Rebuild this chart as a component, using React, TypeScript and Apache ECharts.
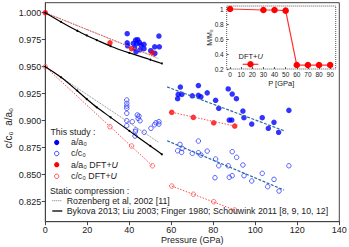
import React, { useEffect, useRef } from "react";
import * as echarts from "echarts";

// ---- data ----
const staticP = [0, 7.5, 15.2, 19.7, 24.5, 31.1, 40, 50, 55.5];
const staticA = [1.0, 0.9915, 0.9833, 0.979, 0.9747, 0.969, 0.9628, 0.9565, 0.953];
const staticC = [0.95, 0.9402, 0.9278, 0.9201, 0.9124, 0.9031, 0.8906, 0.8766, 0.8689];

const rozP = [0, 54];
const rozA = [1.0, 0.9575];
const rozC = [0.95, 0.88];

const dftP = [0, 30.8, 41.1, 51, 60.2, 70.5, 80.2, 90.2];
const dftA = [1.0, 0.9722, 0.9667, 0.963, 0.9078, 0.9031, 0.8981, 0.8951];
const dftC = [0.95, 0.8944, 0.8766, 0.8583, 0.8395, 0.8319, 0.825, 0.8173];

const dftFitA1 = [[0, 1.0], [53, 0.9587]];
const dftFitC1 = [[0, 0.95], [51, 0.8583]];
const dftFitA2 = [[60.2, 0.9078], [90.2, 0.8951]];
const dftFitC2 = [[60.2, 0.8395], [90.2, 0.8173]];

const expFitA = [[58, 0.9313], [114, 0.8905]];
const expFitC = [[58, 0.8815], [113.7, 0.8358]];

const expA = [
  [39.0, 0.9806], [39.0, 0.9722], [39.2, 0.9694], [43.0, 0.9747], [44.0, 0.975],
  [41.9, 0.9717], [43.5, 0.9713], [44.8, 0.9726], [45.6, 0.9701], [47.0, 0.9707],
  [47.0, 0.9667], [45.1, 0.9657], [43.2, 0.9639], [42.5, 0.9675], [54.1, 0.9784],
  [52.1, 0.9685], [54.3, 0.9685], [50.2, 0.9648], [52.2, 0.9624],
  [64.3, 0.9312], [63.0, 0.9204], [63.3, 0.9244], [65.0, 0.9244], [70.0, 0.9231],
  [72.9, 0.9326], [72.9, 0.9235], [74.1, 0.9222], [77.1, 0.9258], [81.1, 0.9189],
  [82.6, 0.9115], [87.1, 0.9294], [89.0, 0.9247], [91.0, 0.9204], [94.1, 0.909],
  [94.6, 0.9028], [87.6, 0.9006], [88.8, 0.9006], [98.3, 0.8969], [103.3, 0.9028],
  [108.9, 0.8985], [106.2, 0.893], [111.1, 0.8893], [116.0, 0.9096],
];

const expC = [
  [38.8, 0.9192], [38.8, 0.9161], [38.8, 0.9136], [38.8, 0.9115], [38.8, 0.9069],
  [38.8, 0.9], [38.8, 0.8954], [41.4, 0.8991], [43.8, 0.9053], [44.6, 0.9043],
  [44.2, 0.9022], [45.1, 0.9], [42.9, 0.8898], [42.7, 0.8858], [43.0, 0.8914],
  [47.1, 0.8893], [50.3, 0.893], [52.0, 0.8963], [52.7, 0.8981], [54.1, 0.8991],
  [54.1, 0.8969],
  [64.1, 0.8781], [63.0, 0.8722], [65.2, 0.8744], [64.9, 0.8707], [70.0, 0.8698],
  [72.9, 0.8812], [72.9, 0.8704], [74.1, 0.8682], [77.1, 0.8719], [81.1, 0.8645],
  [80.8, 0.8472], [82.6, 0.8583], [87.1, 0.8583], [89.0, 0.8713], [91.1, 0.8661],
  [87.6, 0.8476], [89.0, 0.8491], [94.1, 0.859], [94.6, 0.8491], [98.3, 0.8442],
  [103.3, 0.8513], [108.9, 0.8457], [105.9, 0.8389], [111.3, 0.8349], [116.0, 0.8583],
];

const xTicks = [0, 20, 40, 60, 80, 100, 120, 140];
const yTicks = [0.825, 0.85, 0.875, 0.9, 0.925, 0.95, 0.975, 1.0];

const insetP = [0, 30, 40, 50, 60, 70, 80, 90];
const insetM = [1.0, 0.987, 0.987, 0.978, 0.253, 0.253, 0.253, 0.253];
const insetXTicks = [0, 10, 20, 30, 40, 50, 60, 70, 80, 90];
const insetYTicks = [0.2, 0.4, 0.6, 0.8, 1.0];

const FONT = '"Liberation Sans", Arial, sans-serif';
const BLUE = "#0000ff";
const OBLUE = "#2f3cff";
const RED = "#ff0000";
const FITBLUE = "#2a6aa8";
const LF = 8.8;

const zip = (xs: number[], ys: number[]) => xs.map((x, i) => [x, ys[i]]);

export default function App() {
  const ref = useRef<HTMLDivElement>(null);
  useEffect(() => {
    if (!ref.current) return;
    const chart = echarts.init(ref.current, undefined, { renderer: "svg" });
    const lbl = (t: string, x: number, y: number, extra: any = {}) => ({
      type: "text",
      x,
      y,
      z: 20,
      style: {
        text: t,
        font: `${LF}px ${FONT}`,
        fill: "#222",
        verticalAlign: "middle",
        ...extra,
      },
    });
    const richLbl = (pre: string, x: number, y: number, size: number, z = 20) => ({
      type: "text", x, y, z,
      style: {
        text: `{n|${pre}}{i|U}`,
        verticalAlign: "middle",
        rich: {
          n: { font: `${size}px ${FONT}`, fill: "#222" },
          i: { font: `italic ${size}px ${FONT}`, fill: "#222" },
        },
      },
    });
    const graphic: any[] = [
      {
        type: "text",
        x: 8,
        y: 128,
        rotation: Math.PI / 2,
        style: {
          text: "c/c₀  a/a₀",
          font: `10px ${FONT}`,
          fill: "#222",
          align: "center",
          verticalAlign: "middle",
        },
      },
      lbl("Pressure (GPa)", 192.3, 239.5, { align: "center", font: `9px ${FONT}` }),
      lbl("This study :", 50.5, 131.7),
      { type: "circle", z: 20, shape: { cx: 56.7, cy: 142.5, r: 2.6 }, style: { fill: BLUE } },
      lbl("a/a₀", 71, 142),
      { type: "circle", z: 20, shape: { cx: 56.7, cy: 153.5, r: 2.2 }, style: { fill: "none", stroke: OBLUE, lineWidth: 1 } },
      lbl("c/c₀", 71, 153),
      { type: "circle", z: 20, shape: { cx: 56.7, cy: 164.7, r: 2.6 }, style: { fill: RED } },
      richLbl("a/a₀ DFT+", 71, 164.5, LF),
      { type: "circle", z: 20, shape: { cx: 56.7, cy: 176.3, r: 2.2 }, style: { fill: "none", stroke: "#ff4a4a", lineWidth: 1 } },
      richLbl("c/c₀ DFT+", 71, 176, LF),
      lbl("Static compression :", 50, 191),
      { type: "line", z: 20, shape: { x1: 52.3, y1: 200.7, x2: 62.3, y2: 200.7 }, style: { stroke: "#777", lineWidth: 1, lineDash: [1, 1] } },
      lbl("Rozenberg et al, 2002 [11]", 66.7, 200.7),
      { type: "line", z: 20, shape: { x1: 52.3, y1: 211, x2: 62.3, y2: 211 }, style: { stroke: "#000", lineWidth: 1.3 } },
      lbl("Bykova 2013; Liu 2003; Finger 1980; Schouwink 2011 [8, 9, 10, 12]", 66.7, 211),
      {
        type: "rect",
        z: 30,
        shape: { x: 226.7, y: 6, width: 109, height: 63 },
        style: { fill: "none", stroke: "#555", lineWidth: 1, lineDash: [1, 1] },
      },
      richLbl("DFT+", 238.5, 56.7, 7.5, 30),
      { type: "line", z: 30, shape: { x1: 242.7, y1: 64.3, x2: 258.3, y2: 64.3 }, style: { stroke: "#ff3030", lineWidth: 1.2 } },
      { type: "circle", z: 31, shape: { cx: 250.5, cy: 64.3, r: 3.2 }, style: { fill: RED } },
    ];

    const option: any = {
      animation: false,
      backgroundColor: "#fff",
      textStyle: { fontFamily: FONT },
      grid: [
        {
          left: 45.3, top: 2.7, width: 294, height: 219,
          show: true, borderColor: "#444", borderWidth: 1, backgroundColor: "transparent",
          containLabel: false, outerBoundsMode: "none",
        },
        {
          left: 226.7, top: 6, width: 109, height: 63,
          show: true, borderWidth: 0, backgroundColor: "#fff", z: 5,
          containLabel: false, outerBoundsMode: "none",
        },
      ],
      xAxis: [
        {
          type: "value", gridIndex: 0, min: 0, max: 140, interval: 20,
          axisLine: { show: true, onZero: false, lineStyle: { color: "#444", width: 1 } },
          axisTick: { show: true, inside: false, length: 3.5, customValues: xTicks, lineStyle: { color: "#444" } },
          axisLabel: { fontSize: 9, color: "#222", margin: 4, customValues: xTicks, fontFamily: FONT },
          splitLine: { show: false },
        },
        {
          type: "value", gridIndex: 1, min: -3, max: 95,
          name: "P [GPa]", nameLocation: "middle", nameGap: 10, nameMoveOverlap: false,
          nameTextStyle: { fontSize: 7.5, color: "#222", fontFamily: FONT },
          axisLine: { show: false, onZero: false },
          axisTick: { show: true, inside: true, length: 2, customValues: insetXTicks, lineStyle: { color: "#555" } },
          axisLabel: { fontSize: 6.5, color: "#222", margin: 2, customValues: insetXTicks, fontFamily: FONT },
          splitLine: { show: false },
          z: 6,
        },
      ],
      yAxis: [
        {
          type: "value", gridIndex: 0, min: 0.8065, max: 1.0093,
          axisLine: { show: true, onZero: false, lineStyle: { color: "#444", width: 1 } },
          axisTick: { show: true, inside: false, length: 3.5, customValues: yTicks, lineStyle: { color: "#444" } },
          axisLabel: {
            fontSize: 9, color: "#222", margin: 4, customValues: yTicks, fontFamily: FONT,
            formatter: (v: number) => v.toFixed(3),
          },
          splitLine: { show: false },
        },
        {
          type: "value", gridIndex: 1, min: 0.2, max: 1.04,
          name: "M/M₀", nameLocation: "middle", nameGap: 14, nameRotate: 90, nameMoveOverlap: false,
          nameTextStyle: { fontSize: 7, color: "#222", fontFamily: FONT },
          axisLine: { show: false, onZero: false },
          axisTick: { show: true, inside: true, length: 2, customValues: insetYTicks, lineStyle: { color: "#555" } },
          axisLabel: {
            fontSize: 6.5, color: "#222", margin: 3, customValues: insetYTicks, fontFamily: FONT,
            formatter: (v: number) => (v === 1 ? "1" : String(Math.round(v * 10) / 10)),
          },
          splitLine: { show: false },
          z: 6,
        },
      ],
      graphic,
      series: [
        { type: "line", data: zip(rozP, rozA), symbol: "none", lineStyle: { color: "#777", width: 0.9, type: [1, 1] } },
        { type: "line", data: zip(rozP, rozC), symbol: "none", lineStyle: { color: "#777", width: 0.9, type: [1, 1] } },
        { type: "line", data: dftFitA1, symbol: "none", lineStyle: { color: "#ff5050", width: 1, type: [1.5, 1.5] } },
        { type: "line", data: dftFitC1, symbol: "none", lineStyle: { color: "#ff5050", width: 1, type: [1.5, 1.5] } },
        { type: "line", data: dftFitA2, symbol: "none", lineStyle: { color: "#ff5050", width: 1, type: [1.5, 1.5] } },
        { type: "line", data: dftFitC2, symbol: "none", lineStyle: { color: "#ff5050", width: 1, type: [1.5, 1.5] } },
        { type: "line", data: expFitA, symbol: "none", lineStyle: { color: FITBLUE, width: 1.2, type: [3, 1.5] } },
        { type: "line", data: expFitC, symbol: "none", lineStyle: { color: FITBLUE, width: 1.2, type: [3, 1.5] } },
        {
          type: "line", data: zip(staticP, staticA), smooth: 0.3,
          symbol: "circle", symbolSize: 2, showSymbol: true,
          itemStyle: { color: "#000" }, lineStyle: { color: "#000", width: 1.2 },
        },
        {
          type: "line", data: zip(staticP, staticC), smooth: 0.3,
          symbol: "circle", symbolSize: 2, showSymbol: true,
          itemStyle: { color: "#000" }, lineStyle: { color: "#000", width: 1.2 },
        },
        { type: "scatter", data: expA, symbol: "circle", symbolSize: 5.5, itemStyle: { color: BLUE } },
        {
          type: "scatter", data: expC, symbol: "circle", symbolSize: 4.5,
          itemStyle: { color: "transparent", borderColor: OBLUE, borderWidth: 1 },
        },
        { type: "scatter", data: zip(dftP, dftA), symbol: "circle", symbolSize: 5.5, itemStyle: { color: RED } },
        {
          type: "scatter", data: zip(dftP, dftC), symbol: "circle", symbolSize: 4.5,
          itemStyle: { color: "transparent", borderColor: "#ff4a4a", borderWidth: 1 },
        },
        {
          type: "line", xAxisIndex: 1, yAxisIndex: 1, z: 10,
          data: zip(insetP, insetM), symbol: "circle", symbolSize: 6.5,
          itemStyle: { color: RED }, lineStyle: { color: "#ff3030", width: 1.2 },
        },
      ],
    };
    chart.setOption(option);
    return () => chart.dispose();
  }, []);
  return <div ref={ref} style={{ width: 349, height: 247, position: "absolute", left: 0, top: 0 }} />;
}
